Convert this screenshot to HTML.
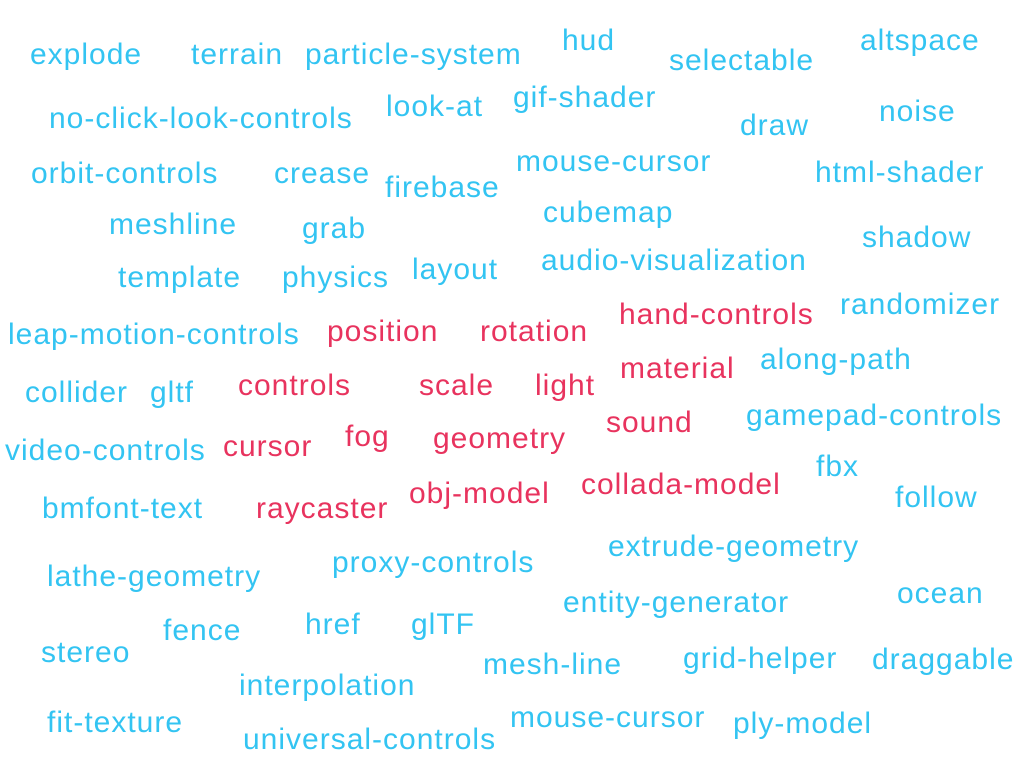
<!DOCTYPE html>
<html><head><meta charset="utf-8"><style>
html,body{margin:0;padding:0;background:#fff;width:1024px;height:768px;overflow:hidden}
svg text{font-family:"Liberation Sans",sans-serif;font-size:30px;letter-spacing:1px}
</style></head><body>
<svg id="cloud" width="1024" height="768" xmlns="http://www.w3.org/2000/svg"></svg>
<script>
const words=["explode","terrain","particle-system","hud","selectable","altspace","no-click-look-controls","look-at","gif-shader","draw","noise","orbit-controls","crease","firebase","mouse-cursor","html-shader","meshline","grab","cubemap","shadow","template","physics","layout","audio-visualization","randomizer","leap-motion-controls","position","rotation","hand-controls","material","along-path","collider","gltf","controls","scale","light","sound","gamepad-controls","video-controls","cursor","fog","geometry","fbx","bmfont-text","raycaster","obj-model","collada-model","follow","extrude-geometry","lathe-geometry","proxy-controls","entity-generator","ocean","stereo","fence","href","glTF","mesh-line","grid-helper","draggable","interpolation","fit-texture","mouse-cursor","ply-model","universal-controls"];
const groups=[0,0,0,0,0,0,0,0,0,0,0,0,0,0,0,0,0,0,0,0,0,0,0,0,0,0,1,1,1,1,0,0,0,1,1,1,1,0,0,1,1,1,0,0,1,1,1,0,0,0,0,0,0,0,0,0,0,0,0,0,0,0,0,0,0];
const layoutX=[30,191,305,562,669,860,49,386,513,740,879,31,274,385,516,815,109,302,543,862,118,282,412,541,840,8,327,480,619,620,760,25,150,238,419,535,606,746,5,223,345,433,816,42,256,409,581,895,608,47,332,563,897,41,163,305,411,483,683,872,239,47,510,733,243];
const layoutY=[54,54,54,40,60,40,118,106,97,125,111,173,173,187,161,172,224,228,212,237,277,277,269,260,304,334,331,331,314,368,359,392,392,385,385,385,422,415,450,446,436,438,466,508,508,493,484,497,546,576,562,602,593,652,630,624,624,664,658,659,685,722,717,723,739];
const colors=["#33c4f2","#e8335e"];
const svg=document.getElementById('cloud');
words.forEach((w,i)=>{
  const t=document.createElementNS('http://www.w3.org/2000/svg','text');
  t.setAttribute('x',layoutX[i]);
  t.setAttribute('y',layoutY[i]+10);
  t.setAttribute('fill',colors[groups[i]]);
  t.textContent=w;
  
  
  svg.appendChild(t);
});
</script>
</body></html>
